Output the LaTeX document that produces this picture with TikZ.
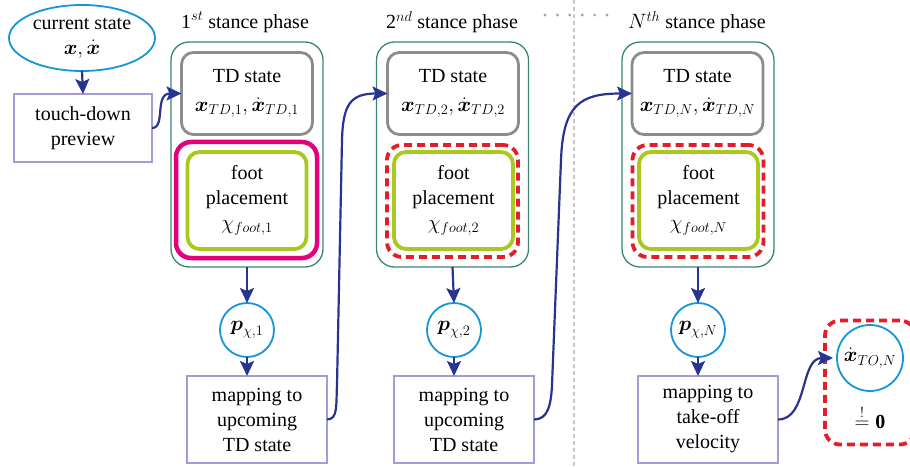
\documentclass[tikz,border=0pt]{standalone}
\usepackage{amsmath}
\usepackage{fontspec}
\setmainfont{Liberation Serif}
\usetikzlibrary{arrows.meta,shapes.geometric}

\definecolor{flowblue}{RGB}{40,52,145}
\definecolor{statecyan}{RGB}{20,150,215}
\definecolor{phasegreen}{RGB}{55,135,115}
\definecolor{tdgray}{RGB}{140,140,140}
\definecolor{footlime}{RGB}{170,200,30}
\definecolor{hotmagenta}{RGB}{228,0,125}
\definecolor{dashred}{RGB}{228,30,40}
\definecolor{boxlav}{RGB}{165,155,215}
\definecolor{sepgray}{RGB}{200,200,200}

\begin{document}
\begin{tikzpicture}[x=1pt,y=-1pt,
  font=\fontsize{20}{25}\selectfont,
  every node/.style={inner sep=0pt, outer sep=0pt, align=center},
  phasebox/.style={rectangle, draw=phasegreen, line width=1.3pt, rounded corners=18pt,
    minimum width=152pt, minimum height=225pt},
  tdbox/.style={rectangle, draw=tdgray, line width=2.8pt, rounded corners=12pt,
    minimum width=131pt, minimum height=82pt},
  magbox/.style={rectangle, draw=hotmagenta, line width=4.5pt, rounded corners=15pt,
    minimum width=141pt, minimum height=116pt},
  redbox/.style={rectangle, draw=dashred, line width=3.8pt, dash pattern=on 8pt off 5pt,
    rounded corners=15pt, minimum width=131pt, minimum height=112pt},
  footbox/.style={rectangle, draw=footlime, line width=3.8pt, rounded corners=12pt,
    minimum width=119pt, minimum height=97pt},
  procbox/.style={rectangle, draw=boxlav, line width=1.2pt,
    minimum width=140pt, minimum height=87pt},
  statecircle/.style={circle, draw=statecyan, line width=1.8pt, minimum size=54pt},
  arr/.style={draw=flowblue, line width=2.2pt,
    -{Stealth[length=15pt,width=14pt,inset=3pt]}},
]
\useasboundingbox (0,0) rectangle (910,468);

% separator between the second and the N-th phase
\draw[sepgray, line width=1.6pt, dash pattern=on 4pt off 3pt] (574,0) -- (574,468);
\foreach \i in {0,...,5}
  \fill[gray!70] (545+\i*12.4,15) circle (1.6pt);

% initial state and preview
\node[ellipse, draw=statecyan, line width=1.8pt, minimum width=146pt, minimum height=66pt]
  (cur) at (82,38) {current state\\$\boldsymbol{x}, \dot{\boldsymbol{x}}$};
\node[procbox, minimum width=138pt, minimum height=68pt] (tdp) at (83,128)
  {touch-down\\preview};

% phase 1
\node (t1) at (245,22) {1$^{st}$ stance phase};
\node[phasebox] (cont1) at (247,154.5) {};
\node[tdbox] (td1) at (247,93.5) {TD state\\[4pt]$\boldsymbol{x}_{TD,1}, \dot{\boldsymbol{x}}_{TD,1}$};
\node[magbox] (sel1) at (246.5,200) {};
\node[footbox] (fp1) at (247,200.5) {foot\\placement\\$\chi_{foot,1}$};
\node[statecircle] (p1) at (247,330) {$\boldsymbol{p}_{\chi,1}$};
\node[procbox] (map1) at (257,419.5) {mapping to\\upcoming\\TD state};

% phase 2
\node (t2) at (452,22) {2$^{nd}$ stance phase};
\node[phasebox] (cont2) at (452.5,154.5) {};
\node[tdbox] (td2) at (453,93.5) {TD state\\[4pt]$\boldsymbol{x}_{TD,2}, \dot{\boldsymbol{x}}_{TD,2}$};
\node[redbox] (sel2) at (452.5,201) {};
\node[footbox] (fp2) at (453.5,200.5) {foot\\placement\\$\chi_{foot,2}$};
\node[statecircle] (p2) at (454,330) {$\boldsymbol{p}_{\chi,2}$};
\node[procbox] (map2) at (464,419.5) {mapping to\\upcoming\\TD state};

% phase N
\node (t3) at (697,22) {$N^{th}$ stance phase};
\node[phasebox] (cont3) at (698,154.5) {};
\node[tdbox] (td3) at (697.5,93.5) {TD state\\[4pt]$\boldsymbol{x}_{TD,N}, \dot{\boldsymbol{x}}_{TD,N}$};
\node[redbox] (sel3) at (698,201) {};
\node[footbox] (fp3) at (698.5,200.5) {foot\\placement\\$\chi_{foot,N}$};
\node[statecircle] (p3) at (698,330) {$\boldsymbol{p}_{\chi,N}$};
\node[procbox] (map3) at (708,419.5) {mapping to\\take-off\\velocity};

% take-off velocity condition
\node[rectangle, draw=dashred, line width=3.8pt, dash pattern=on 8pt off 5pt,
  rounded corners=15pt, minimum width=90pt, minimum height=124pt] (sel4) at (870,382.5) {};
\node[statecircle, minimum size=66pt] (toc) at (870,358) {$\dot{\boldsymbol{x}}_{TO,N}$};
\node (eq) at (870,417) {$\overset{!}{=} \mathbf{0}$};

% connectors
\draw[arr] (cur.south) -- (tdp.north);
\draw[arr] (tdp.east) .. controls (166,128) and (154,93.5) .. (td1.west);
\foreach \k in {1,2,3} {
  \draw[arr] (cont\k.south) -- (p\k.north);
  \draw[arr] (p\k.south) -- (p\k.south |- map\k.north);
}
\draw[arr] (map1.east) .. controls (338,419.5) and (336,405) .. (337,385)
  -- (342,140) .. controls (343,105) and (350,93.5) .. (td2.west);
\draw[arr] (map2.east) .. controls (548,419.5) and (551,405) .. (552,385)
  -- (561,160) .. controls (563,105) and (580,93.5) .. (td3.west);
\draw[arr, shorten >=4pt] (map3.east) .. controls (808,419.5) and (800,358) .. (toc.west);
\end{tikzpicture}
\end{document}
